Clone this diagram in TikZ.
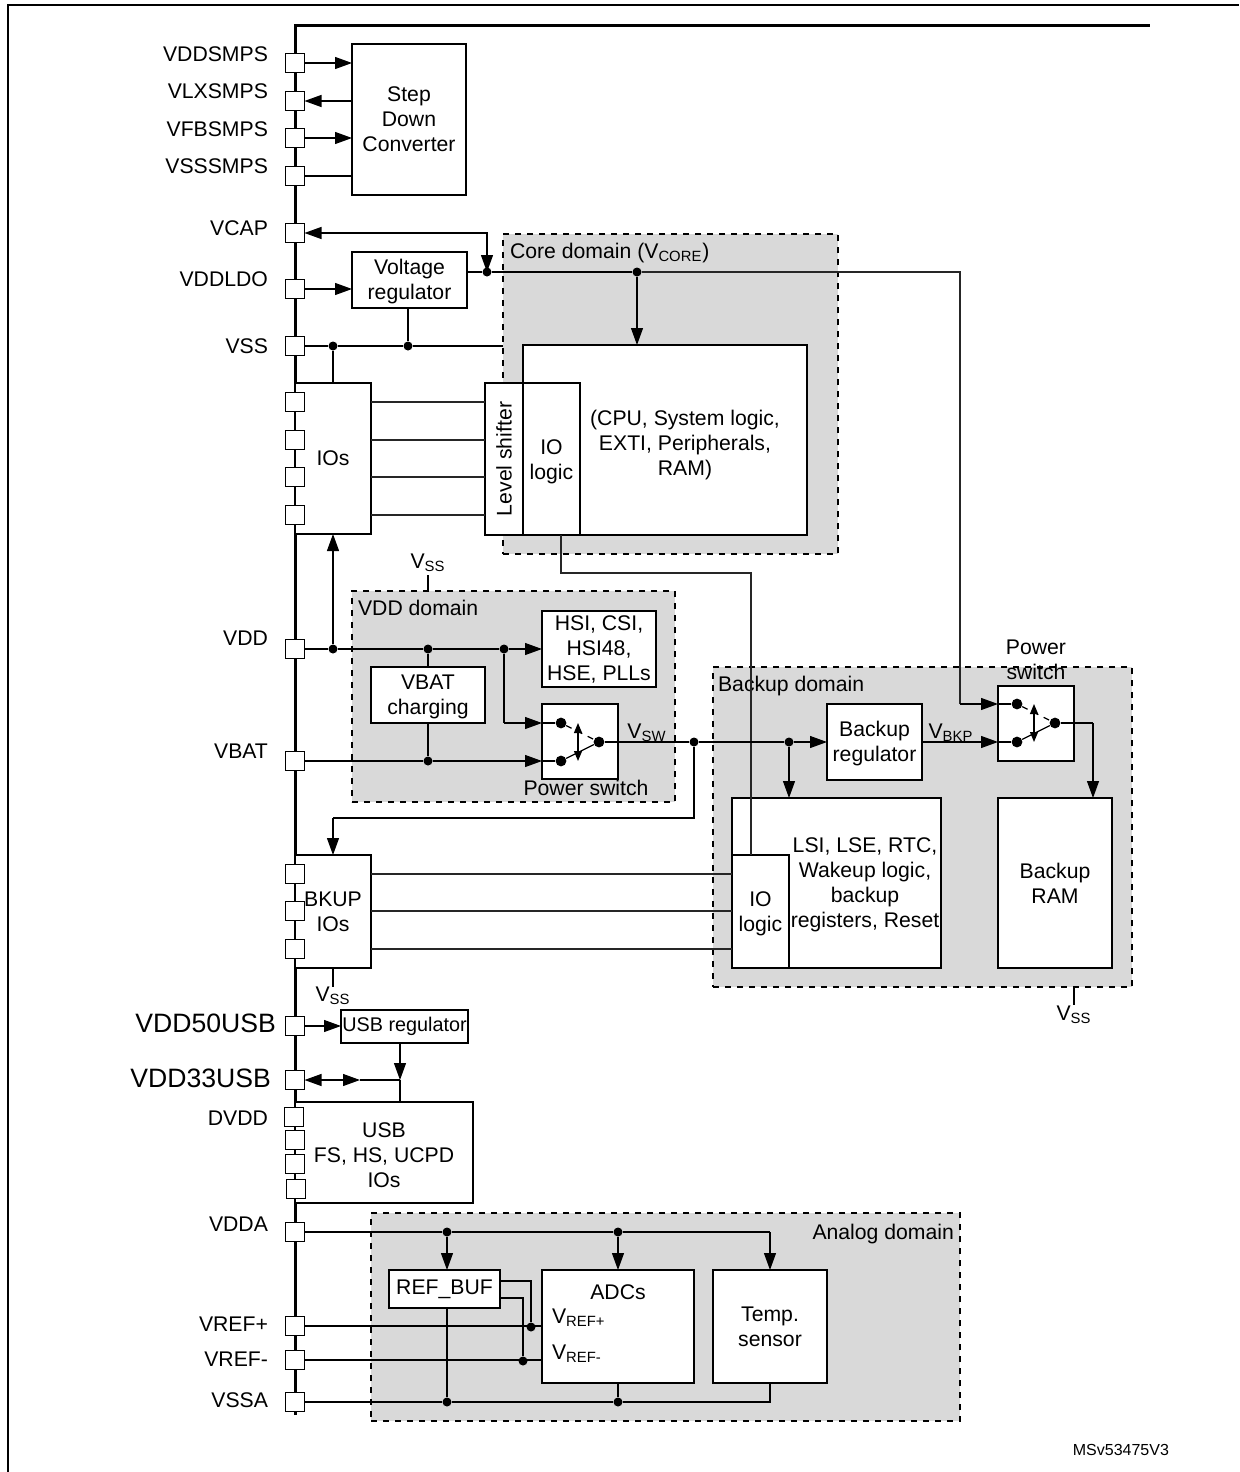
\documentclass[tikz,border=0pt]{standalone}
\usepackage{fontspec}
\setmainfont{Liberation Sans}
\usetikzlibrary{arrows.meta,positioning}

\definecolor{domaingray}{HTML}{D9D9D9}

\tikzset{
  every node/.style={font=\fontsize{10.6}{12.5}\selectfont, align=center},
  boxsize/.style 2 args={minimum width=#1*0.5pt, minimum height=#2*0.5pt},
  thinline/.style={line width=0.6pt},
  hairline/.style={line width=0.55pt, black!85},
  arrowline/.style={thinline, -{Triangle[length=8.5pt,width=6pt]}},
  bothline/.style={thinline, {Triangle[length=8.5pt,width=6pt]}-{Triangle[length=8.5pt,width=6pt]}},
  smallarrow/.style={thinline, {Triangle[length=5pt,width=4pt]}-{Triangle[length=5pt,width=4pt]}},
  blockbox/.style={draw, line width=0.95pt, fill=white, inner sep=0pt, outer sep=0pt},
  pad/.style={draw, line width=0.7pt, fill=white, inner sep=0pt, outer sep=0pt, boxsize={19}{19}},
  domainbox/.style={draw, dashed, line width=0.7pt, fill=domaingray, inner sep=0pt, outer sep=0pt},
  dot/.style={circle, fill=black, inner sep=0pt, minimum size=4.5pt},
  bigdot/.style={circle, fill=black, inner sep=0pt, minimum size=5.4pt},
  padlabel/.style={anchor=east},
  biglabel/.style={anchor=east, font=\fontsize{13.3}{15}\selectfont},
  domainlabel/.style={anchor=west},
}

\begin{document}
\begin{tikzpicture}[x=0.5pt,y=-0.5pt]
    \useasboundingbox (0,0) rectangle (1239,1472);

    % Outer frame and bus
    \draw[line width=0.95pt] (8,1472) -- (8,5) -- (1239,5);
    \draw[line width=1.5pt] (295,1415) -- (295,25) -- (1150,25);

    % Domains
    \node[domainbox, boxsize={335}{320}] (coredomain) at (670.5,394) {};
    \node[domainbox, boxsize={323}{211}] (vdddomain) at (513.5,696.5) {};
    \node[domainbox, boxsize={419}{320}] (backupdomain) at (922.5,827) {};
    \node[domainbox, boxsize={589}{208}] (analogdomain) at (665.5,1317) {};
    \node[domainlabel] (corelabel) at (503,253) {Core domain (V\textsubscript{CORE})};
    \node[domainlabel] (vddlabel) at (351,608) {VDD domain};
    \node[domainlabel] (backuplabel) at (711,686) {Backup domain};
    \node[anchor=east] (analoglabel) at (961,1234) {Analog domain};

    % Pads
    \foreach \name/\ypos in {ddsmps/63,lxsmps/101,fbsmps/138,sssmps/176,vcap/233,ddldo/289,vss/346,
        vdd/649,vbat/761,usbfive/1026,usbthree/1080,vdda/1232,refp/1326,refm/1360,vssa/1402}
        \node[pad] (\name) at (295,\ypos) {};

    % Blocks
    \node[blockbox, boxsize={114}{151}] (stepdown) at (409,119.5) {Step\\Down\\Converter};
    \node[blockbox, boxsize={115}{56}] (ldo) at (409.5,280) {\rule{0pt}{9.6pt}Voltage\\regulator};
    \node[blockbox, boxsize={284}{190}] (core) at (665,440) {};
    \node[blockbox, boxsize={76}{151}, anchor=north west] (ios) at (295,383) {IOs};
    \node[blockbox, boxsize={38}{152}] (shifter) at (504,459) {\rotatebox{90}{Level shifter}};
    \node[blockbox, boxsize={57}{152}] (corelogic) at (551.5,459) {\rule{0pt}{10.6pt}IO\\logic};
    \node[inner sep=0pt] (coretext) at (685,445) {(CPU, System logic,\\EXTI, Peripherals,\\RAM)};
    \node[blockbox, boxsize={114}{76}] (hsi) at (599,649) {HSI, CSI,\\HSI48,\\HSE, PLLs};
    \node[blockbox, boxsize={114}{56}] (charging) at (428,695) {\rule{0pt}{9pt}VBAT\\charging};
    \node[blockbox, boxsize={76}{75}] (vddswitch) at (580,741.5) {};
    \node[blockbox, boxsize={95}{76}] (bkpreg) at (874.5,742) {\rule{0pt}{9.6pt}Backup\\regulator};
    \node[blockbox, boxsize={209}{170}] (bkplogic) at (836.5,883) {};
    \node[blockbox, boxsize={57}{113}] (bkpiologic) at (760.5,911.5) {\rule{0pt}{9.6pt}IO\\logic};
    \node[inner sep=0pt] (bkptext) at (865,885) {LSI, LSE, RTC,\\Wakeup logic,\\backup\\registers, Reset};
    \node[blockbox, boxsize={76}{75}] (bkpswitch) at (1036,723.5) {};
    \node[blockbox, boxsize={114}{170}] (bkpram) at (1055,883) {Backup\\RAM};
    \node[blockbox, boxsize={76}{113}, anchor=north west] (bkupios) at (295,855) {BKUP\\IOs};
    \node[blockbox, boxsize={127}{33}, font=\fontsize{9.9}{12}\selectfont] (usbreg) at (404.5,1026.5) {USB regulator};
    \node[blockbox, boxsize={178}{101}, anchor=north west] (usbios) at (295,1102) {\rule{0pt}{10pt}USB\\FS, HS, UCPD\\IOs};
    \node[blockbox, boxsize={111}{38}] (refbuf) at (444.5,1289) {REF\_BUF};
    \node[blockbox, boxsize={152}{113}] (adcs) at (618,1326.5) {};
    \node[blockbox, boxsize={114}{113}] (tempsensor) at (770,1326.5) {Temp.\\sensor};
    \node (adctext) at (618,1292) {ADCs};
    \node[anchor=west] (vrefptext) at (545,1318) {V\textsubscript{REF+}};
    \node[anchor=west] (vrefmtext) at (545,1354) {V\textsubscript{REF-}};

    % Pads drawn over the IO blocks
    \foreach \name/\xpos/\ypos in {ioa/295/402,iob/295/440,ioc/295/477,iod/295/515,
        bka/295/874,bkb/295/911,bkc/295/949,dvdd/294/1117,usbb/295/1140,usbc/295/1164,usbd/296/1189}
        \node[pad] (\name) at (\xpos,\ypos) {};

    % Pad labels
    \foreach \ypos/\txt in {54/VDDSMPS,91/VLXSMPS,129/VFBSMPS,166/VSSSMPS,228/VCAP,279/VDDLDO,
        346/VSS,638/VDD,751/VBAT,1118/DVDD,1224/VDDA,1324/VREF+,1359/VREF-,1400/VSSA}
        \node[padlabel] (lab\ypos) at (275,\ypos) {\txt};
    \node[biglabel] (labfive) at (283,1023) {VDD50USB};
    \node[biglabel] (labthree) at (278,1078) {VDD33USB};

    % Step down converter
    \draw[arrowline] (ddsmps) -- (ddsmps -| stepdown.west);
    \draw[arrowline] (lxsmps -| stepdown.west) -- (lxsmps.east);
    \draw[arrowline] (fbsmps) -- (fbsmps -| stepdown.west);
    \draw[thinline] (sssmps) -- (sssmps -| stepdown.west);

    % LDO and core supply
    \draw[arrowline] (ddldo) -- (ddldo -| ldo.west);
    \node[dot] (ldoout) at (487,272) {};
    \node[dot] (coretap) at (637,272) {};
    \coordinate (capcorner) at (487,233);
    \coordinate (bkpcorner) at (960,272);
    \coordinate (bkpdrop) at (960,704);
    \draw[bothline] (vcap.east |- capcorner) -- (capcorner) -- (ldoout.center);
    \draw[thinline] (ldo.east |- ldoout) -- (ldoout) -- (coretap);
    \draw[hairline] (coretap) -- (bkpcorner) -- (bkpdrop);
    \draw[arrowline] (bkpdrop) -- (bkpswitch.west |- bkpdrop);
    \draw[arrowline] (coretap) -- (coretap |- core.north);

    % VSS
    \node[dot] (vssio) at (333,346) {};
    \node[dot] (vssldo) at (408,346) {};
    \draw[thinline] (vss) -- (vssio) -- (vssldo) -- (coredomain.west |- vss);
    \draw[thinline] (vssio) -- (vssio |- ios.north);
    \draw[thinline] (vssldo) -- (vssldo |- ldo.south);

    % IO lines
    \foreach \name in {ioa,iob,ioc,iod}
        \draw[hairline] (ios.east |- \name) -- (shifter.west |- \name);
    \coordinate (ioturn) at (561,573);
    \coordinate (ioturnb) at (751,573);
    \draw[hairline] (ioturn |- corelogic.south) -- (ioturn) -- (ioturnb) -- (ioturnb |- bkpiologic.north);

    % VDD domain
    \node[dot] (vddio) at (333,649) {};
    \node[dot] (vddcharge) at (428,649) {};
    \node[dot] (vddswitchin) at (504,649) {};
    \node[dot] (batcharge) at (428,761) {};
    \coordinate (vddturn) at (504,723);
    \draw[thinline] (vdd) -- (vddio) -- (vddcharge) -- (vddswitchin);
    \draw[arrowline] (vddswitchin) -- (hsi.west |- vddswitchin);
    \draw[arrowline] (vddio) -- (vddio |- ios.south);
    \draw[thinline] (vddcharge) -- (charging.north);
    \draw[thinline] (charging.south) -- (batcharge);
    \draw[thinline] (vbat) -- (batcharge);
    \draw[thinline] (vddswitchin) -- (vddturn);
    \coordinate (vssvddend) at (428,575);
    \draw[thinline] (vdddomain.north -| vssvddend) -- (vssvddend);
    \node (vssvddtext) at (428,563) {V\textsubscript{SS}};
    \node (swtext) at (586,788) {Power switch};

    % First power switch
    \node[bigdot] (swa) at (561,723) {};
    \node[bigdot] (swb) at (561,761) {};
    \node[bigdot] (swc) at (599,742) {};
    \draw[arrowline] (vddturn) -- (vddswitch.west |- vddturn);
    \draw[arrowline] (batcharge) -- (vddswitch.west |- batcharge);
    \draw[thinline] (vddswitch.west |- swa) -- (swa);
    \draw[thinline] (vddswitch.west |- swb) -- (swb);
    \draw[thinline] (swb) -- (swc);
    \draw[thinline, dashed] (swa) -- (swc);
    \coordinate (swarrowa) at (578,723);
    \coordinate (swarrowb) at (578,761);
    \draw[smallarrow] (swarrowa) -- (swarrowb);
    \node (vswtext) at (647,733) {V\textsubscript{SW}};

    % Backup supply
    \node[dot] (vswtap) at (694,742) {};
    \node[dot] (bkptap) at (789,742) {};
    \coordinate (bkupturn) at (694,818);
    \coordinate (bkupturnb) at (333,818);
    \draw[thinline] (swc) -- (vswtap) -- (bkptap);
    \draw[arrowline] (bkptap) -- (bkpreg.west);
    \draw[arrowline] (bkptap) -- (bkptap |- bkplogic.north);
    \draw[thinline] (vswtap) -- (bkupturn) -- (bkupturnb);
    \draw[arrowline] (bkupturnb) -- (bkupios.north -| bkupturnb);
    \foreach \name in {bka,bkb,bkc}
        \draw[hairline] (bkupios.east |- \name) -- (bkpiologic.west |- \name);

    % Second power switch
    \node[bigdot] (bswa) at (1017,704) {};
    \node[bigdot] (bswb) at (1017,742) {};
    \node[bigdot] (bswc) at (1055,723) {};
    \draw[arrowline] (bkpreg.east) -- (bkpswitch.west |- bkpreg);
    \draw[thinline] (bkpswitch.west |- bswa) -- (bswa);
    \draw[thinline] (bkpswitch.west |- bswb) -- (bswb);
    \draw[thinline] (bswb) -- (bswc);
    \draw[thinline, dashed] (bswa) -- (bswc);
    \coordinate (bswarrowa) at (1034,704);
    \coordinate (bswarrowb) at (1034,742);
    \draw[smallarrow] (bswarrowa) -- (bswarrowb);
    \coordinate (ramturn) at (1093,723);
    \draw[thinline] (bswc) -- (ramturn);
    \draw[arrowline] (ramturn) -- (ramturn |- bkpram.north);
    \node (vbkptext) at (951,733) {V\textsubscript{BKP}};
    \node (bswtext) at (1036,660) {Power\\switch};

    % VSS stubs
    \coordinate (vssbkupend) at (333,987);
    \draw[thinline] (bkupios.south -| vssbkupend) -- (vssbkupend);
    \node (vssbkuptext) at (333,996) {V\textsubscript{SS}};
    \coordinate (vssbkpend) at (1074,1005);
    \draw[thinline] (backupdomain.south -| vssbkpend) -- (vssbkpend);
    \node (vssbkptext) at (1074,1015) {V\textsubscript{SS}};

    % USB
    \draw[arrowline] (usbfive) -- (usbreg.west |- usbfive);
    \coordinate (usbjoin) at (400,1080);
    \coordinate (usbmid) at (360,1080);
    \draw[arrowline] (usbreg.south -| usbjoin) -- (usbjoin);
    \draw[thinline] (usbjoin) -- (usbios.north -| usbjoin);
    \draw[bothline] (usbthree.east) -- (usbmid);
    \draw[thinline] (usbmid) -- (usbjoin);

    % Analog domain
    \node[dot] (ddabuf) at (447,1232) {};
    \node[dot] (ddaadc) at (618,1232) {};
    \coordinate (ddaturn) at (770,1232);
    \draw[thinline] (vdda) -- (ddabuf) -- (ddaadc) -- (ddaturn);
    \draw[arrowline] (ddabuf) -- (ddabuf |- refbuf.north);
    \draw[arrowline] (ddaadc) -- (ddaadc |- adcs.north);
    \draw[arrowline] (ddaturn) -- (tempsensor.north);
    \node[dot] (refptap) at (531,1327) {};
    \node[dot] (refmtap) at (523,1361) {};
    \draw[thinline] (refp) -- (adcs.west |- refp);
    \draw[thinline] (refm) -- (adcs.west |- refm);
    \coordinate (bufp) at (531,1281);
    \coordinate (bufm) at (523,1298);
    \draw[thinline] (refbuf.east |- bufp) -- (bufp) -- (refptap);
    \draw[thinline] (refbuf.east |- bufm) -- (bufm) -- (refmtap);
    \node[dot] (ssabuf) at (447,1402) {};
    \node[dot] (ssaadc) at (618,1402) {};
    \coordinate (ssaturn) at (770,1402);
    \draw[thinline] (vssa) -- (ssabuf) -- (ssaadc) -- (ssaturn) -- (tempsensor.south);
    \draw[thinline] (ssabuf) -- (ssabuf |- refbuf.south);
    \draw[thinline] (ssaadc) -- (adcs.south);

    \node[anchor=east, font=\fontsize{8}{9}\selectfont] (versiontext) at (1176,1450) {MSv53475V3};

\end{tikzpicture}
\end{document}
